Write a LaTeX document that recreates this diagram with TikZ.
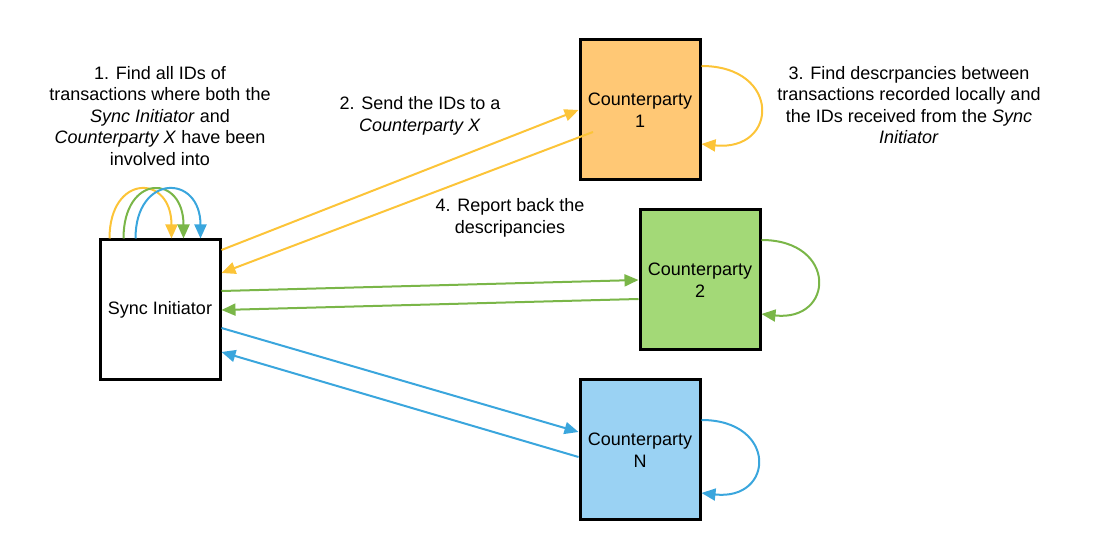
\documentclass[tikz,border=0pt]{standalone}
\usepackage{fontspec}
\setmainfont{Liberation Sans}
\usetikzlibrary{arrows.meta,positioning}
\definecolor{OrangeFill}{HTML}{FFC875}
\definecolor{OrangeLine}{HTML}{FCC438}
\definecolor{GreenFill}{HTML}{A3D977}
\definecolor{GreenLine}{HTML}{7AB648}
\definecolor{BlueFill}{HTML}{9AD2F3}
\definecolor{BlueLine}{HTML}{3AA6DD}

\begin{document}
\begin{tikzpicture}[x=0.75pt,y=0.75pt]
			\tikzstyle{Party} 	= [draw, solid, fill=white, line width=2.25pt, minimum width=90pt, minimum height=105pt, inner sep=0pt, align=center, font=\fontsize{13.5pt}{16.1pt}\selectfont]
			\tikzstyle{Note}	= [align=center, inner sep=0pt, font=\fontsize{13.5pt}{16.1pt}\selectfont]
			\tikzstyle{Flow}	= [line width=1.5pt, -{Triangle[length=10.5pt, width=9pt]}]
			\tikzstyle{OR}		= [OrangeLine]
			\tikzstyle{GR}		= [GreenLine]
			\tikzstyle{BL}		= [BlueLine]
			
			\useasboundingbox (0,0) rectangle (1100,560);
			
			\node (si) at (160,250) [Party] {Sync Initiator};
			\node (c1) at (640,450) [Party][fill=OrangeFill] {Counterparty\\1};
			\node (c2) at (700,280) [Party][fill=GreenFill] {Counterparty\\2};
			\node (cn) at (640,110) [Party][fill=BlueFill] {Counterparty\\N};
			
			\node (t1) at (160,444) [Note] {1. Find all IDs of\\transactions where both the\\\textit{Sync Initiator} and\\\textit{Counterparty X} have been\\involved into};
			\node (t2) at (420,444) [Note] {2. Send the IDs to a\\\textit{Counterparty X}};
			\node (t3) at (909,455) [Note] {3. Find descrpancies between\\transactions recorded locally and\\the IDs received from the \textit{Sync}\\\textit{Initiator}};
			\node (t4) at (510,342) [Note] {4. Report back the\\descripancies};
			
			% loops on top of the initiator
			\draw [Flow] ([xshift=8.25pt]si.north west) .. controls +(0,48.75pt) and +(0,48.75pt) .. ([xshift=54.75pt]si.north west) [OR];
			\draw [Flow] ([xshift=18.75pt]si.north west) .. controls +(0,48.75pt) and +(0,48.75pt) .. ([xshift=63.75pt]si.north west) [GR];
			\draw [Flow] ([xshift=27.75pt]si.north west) .. controls +(0,48.75pt) and +(0,48.75pt) .. ([xshift=76.5pt]si.north west) [BL];
			
			\draw [Flow] ([yshift=45pt]si.east) to (c1.west) [OR];
			\draw [Flow] ([xshift=-35.25pt,yshift=-16.5pt]c1.center) to ([yshift=27.75pt]si.east) [OR];
			\draw [Flow] ([yshift=14.25pt]si.east) to (c2.west) [GR];
			\draw [Flow] ([yshift=-14.25pt]c2.west) to (si.east) [GR];
			\draw [Flow] ([yshift=-13.5pt]si.east) to ([yshift=13.5pt]cn.west) [BL];
			\draw [Flow] ([yshift=-5.25pt]cn.west) to ([yshift=-31.5pt]si.east) [BL];
			
			% each counterparty checks itself
			\draw [Flow] ([yshift=33pt]c1.east) .. controls +(60pt,0) and +(58pt,-6pt) .. ([yshift=-25.5pt]c1.east) [OR];
			\draw [Flow] ([yshift=30pt]c2.east) .. controls +(57pt,0) and +(55pt,-6pt) .. ([yshift=-25.5pt]c2.east) [GR];
			\draw [Flow] ([yshift=22.5pt]cn.east) .. controls +(57pt,0) and +(55pt,-6pt) .. ([yshift=-32.25pt]cn.east) [BL];
		\end{tikzpicture}
\end{document}
